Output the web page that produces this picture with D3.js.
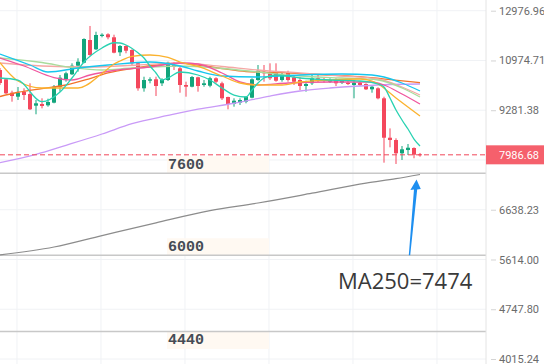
<!DOCTYPE html>
<html>
<head>
<meta charset="utf-8">
<script src="https://cdn.jsdelivr.net/npm/d3@7"></script>
<style>
  body { margin: 0; background: #fff; }
  svg { display: block; }
</style>
</head>
<body>
<div id="chart-area"></div>
<script>
// candle values, one entry per day
let opens = [10627, 10300, 9845, 9714, 9879, 9802, 9424, 9478, 9436, 9520,
  10046, 10310, 10475, 10783, 10892, 11757, 11395, 11917, 11985, 11865,
  11281, 11522, 11368, 10870, 9992, 10251, 10300, 10162, 10275, 10808,
  10689, 10104, 10046, 10370, 10104, 10080, 10335, 10162, 9704, 9478,
  9520, 9552, 9681, 10275, 10567, 10510, 10567, 10275, 10531, 10370,
  10275, 10070, 10162, 10335, 10300, 10217, 10275, 10183, 10183, 10104,
  10183, 10138, 9958, 9992, 9661, 8460, 8395, 8028, 8117, 8172, 8001]
let closes = [10172, 9825, 9736, 9845, 9769, 9310, 9500, 9414, 9542, 10046,
  10355, 10510, 10783, 10929, 11797, 11178, 11957, 11969, 11865, 11265,
  11522, 11341, 10870, 9992, 10275, 10300, 10070, 10275, 10892, 10736,
  10104, 10046, 10380, 10070, 10162, 10335, 10217, 9661, 9478, 9584,
  9606, 9714, 10300, 10602, 10510, 10335, 10251, 10450, 10275, 10217,
  10070, 10138, 10335, 10251, 10251, 10275, 10162, 10251, 10138, 10183,
  10104, 9958, 10046, 9661, 8460, 8395, 8028, 8136, 8180, 7990, 7986.68]
let highs = [10699, 10335, 9912, 10036, 9992, 10162, 9606, 9661, 9648, 10104,
  10450, 10567, 10870, 11055, 11825, 12326, 12090, 12026, 12026, 11969,
  11561, 11549, 11395, 10918, 10390, 10370, 10390, 10335, 10929, 10918,
  10747, 10217, 10415, 10390, 10275, 10390, 10370, 10217, 9714, 9661,
  9661, 9714, 10335, 10808, 10808, 10870, 10870, 10531, 10602, 10450,
  10370, 10251, 10450, 10450, 10345, 10335, 10335, 10300, 10275, 10275,
  10217, 10162, 10070, 10026, 9714, 8730, 8443, 8227, 8283, 8191, 8037]
let lows = [10104, 9802, 9552, 9606, 9606, 9288, 9155, 9340, 9392, 9500,
  9879, 10217, 10450, 10567, 10870, 11152, 11368, 11865, 11785, 11243,
  11141, 11243, 10808, 9912, 9879, 10162, 9736, 10070, 10241, 10627,
  9845, 9714, 10026, 9879, 10046, 10026, 10162, 9606, 9310, 9392,
  9446, 9500, 9661, 10251, 10217, 10275, 10217, 10217, 10217, 10104,
  9935, 9879, 10104, 10207, 10183, 10172, 10070, 10138, 10104, 9661,
  10070, 9935, 9845, 9628, 7778, 8191, 7744, 7849, 7982, 7894, 7937]

// moving averages as [day index, price]
let maTeal = [[0, 10345], [3, 10275], [7, 9552], [10, 9868], [12, 10345], [14, 10918], [17, 11445],
  [19, 11650], [20, 11640], [21, 11561], [23, 11260], [24, 11066], [25, 10772], [26, 10521], [27, 10275],
  [28, 10345], [30, 10556], [33, 10450], [35, 10275], [37, 10002], [39, 9769], [41, 9704], [42, 9935],
  [43, 10172], [44, 10345], [46, 10450], [50, 10345], [55, 10275], [60, 10241], [63, 10138], [64, 10036],
  [65, 9671], [66, 9288], [67, 8980], [68, 8712], [69, 8423], [70, 8227]]
let maGold = [[0, 10893], [3, 10241], [7, 10002], [13, 10002], [17, 10503], [19, 10845], [20, 10955],
  [22, 11130], [25, 11178], [28, 11085], [30, 10918], [33, 10754], [37, 10415], [40, 10172], [43, 10104],
  [47, 10104], [50, 10207], [55, 10275], [60, 10310], [62, 10241], [63, 10138], [66, 9671], [70, 9102]]
let maCyan = [[0, 11216], [5, 10808], [8, 10556], [13, 10699], [18, 10808], [25, 10918], [30, 10772],
  [33, 10592], [37, 10415], [43, 10380], [50, 10450], [57, 10485], [62, 10450], [64, 10380], [67, 10172], [70, 9902]]
let maPink = [[0, 11066], [4, 10772], [9, 10362], [12, 10275], [15, 10450], [19, 10610], [25, 10736],
  [30, 10881], [33, 10845], [37, 10521], [40, 10207], [43, 10104], [48, 10172], [55, 10207], [62, 10207],
  [64, 10104], [67, 9802], [70, 9478]]
let maLightGreen = [[0, 11066], [7, 10900], [12, 10718], [17, 10627], [22, 10699], [30, 10772], [37, 10681],
  [43, 10556], [50, 10415], [57, 10345], [63, 10275], [67, 10002], [70, 9704]]
let maSalmon = [[0, 10881], [7, 10772], [15, 10736], [23, 10808], [30, 10881], [37, 10754], [43, 10627],
  [50, 10521], [57, 10415], [63, 10310], [67, 10036], [70, 9769]]
let maOrange = [[0, 9720], [3, 9860], [7, 9985], [11, 10104], [15, 10327], [18, 10521], [22, 10681],
  [27, 10826], [30, 10870], [33, 10808], [37, 10681], [41, 10574], [47, 10531], [53, 10468], [60, 10390],
  [65, 10292], [70, 10183]]
let maPurple = [[0, 7778], [6, 7998], [11, 8247], [17, 8567], [22, 8869], [28, 9118], [33, 9314],
  [39, 9502], [45, 9736], [50, 9902], [55, 10002], [60, 10070], [65, 10121], [70, 10138]]
let ma250 = [[0, 5703], [9, 5855], [17, 6085], [26, 6352], [35, 6617], [43, 6790], [52, 7018],
  [61, 7262], [66, 7370], [70, 7474]]

let priceTicks = [12976.96, 10974.71, 9281.38, 7849.33, 6638.23, 5614.00, 4747.80, 4015.24]
let levelPrices = [7505, 5694, 4404]
let levelLabels = ["7600", "6000", "4440"]
let gridDays = [2.83, 16.83, 30.83, 44.83, 58.83, 72.83]
let lastPrice = 7986.68
let maNote = "MA250=7474"

let width = 544
let height = 364
let plotRight = 486

let svg = d3.select("#chart-area").append("svg")
  .attr("width", width)
  .attr("height", height)

svg.append("rect").attr("width", width).attr("height", height).attr("fill", "#fff")

let x = d3.scaleLinear().domain([0, 70]).range([0, 420])
let y = d3.scaleLog().domain([4015.24, 12976.96]).range([359, 10.7])

// grid
svg.append("g").selectAll("line").data(gridDays).enter().append("line")
  .attr("x1", d => x(d)).attr("x2", d => x(d))
  .attr("y1", 0).attr("y2", height)
  .attr("stroke", "#f0f2f5")
svg.append("g").selectAll("line").data(priceTicks).enter().append("line")
  .attr("x1", 0).attr("x2", plotRight)
  .attr("y1", d => y(d)).attr("y2", d => y(d))
  .attr("stroke", "#f0f2f5")

// level lines with their labels
let levels = svg.append("g")
levelPrices.forEach((p, i) => {
  let ly = y(p)
  let below = i === levelPrices.length - 1
  levels.append("rect")
    .attr("x", 167).attr("width", 102)
    .attr("y", below ? ly + 0.5 : ly - 17).attr("height", 17)
    .attr("fill", "#fff9f2")
  levels.append("line")
    .attr("x1", 0).attr("x2", plotRight)
    .attr("y1", ly).attr("y2", ly)
    .attr("stroke", "#c8c8c8").attr("stroke-width", 1.5)
  levels.append("text")
    .attr("x", 168)
    .attr("y", below ? ly + 12.5 : ly - 4)
    .attr("font-family", "Liberation Mono, monospace")
    .attr("font-weight", "bold")
    .attr("font-size", "15px")
    .attr("fill", "#464c55")
    .text(levelLabels[i])
})

// candles
let green = "#12a57c"
let red = "#f4475c"
let candles = svg.append("g").selectAll("g").data(opens).enter().append("g")
candles.append("line")
  .attr("x1", (d, i) => x(i)).attr("x2", (d, i) => x(i))
  .attr("y1", (d, i) => y(highs[i])).attr("y2", (d, i) => y(lows[i]))
  .attr("stroke", (d, i) => closes[i] >= d ? green : red)
candles.append("rect")
  .attr("x", (d, i) => x(i) - 2)
  .attr("width", 4)
  .attr("y", (d, i) => y(Math.max(d, closes[i])))
  .attr("height", (d, i) => Math.max(1, Math.abs(y(d) - y(closes[i]))))
  .attr("fill", (d, i) => closes[i] >= d ? green : red)

// moving averages
let line = d3.line()
  .x(d => x(d[0]))
  .y(d => y(d[1]))
  .curve(d3.curveMonotoneX)

let maLines = [
  [maPurple, "#c99af7"],
  [maOrange, "#f2742a"],
  [maSalmon, "#f5a7a5"],
  [maLightGreen, "#a9dc9c"],
  [maPink, "#f0579f"],
  [maCyan, "#16c6ee"],
  [maGold, "#fbb22e"],
  [maTeal, "#29d2b2"]
]
maLines.forEach(m => {
  svg.append("path")
    .attr("d", line(m[0]))
    .attr("fill", "none")
    .attr("stroke", m[1])
    .attr("stroke-width", 1.3)
})

svg.append("path")
  .attr("d", line(ma250))
  .attr("fill", "none")
  .attr("stroke", "#8c8c8c")
  .attr("stroke-width", 1.2)

// current price
svg.append("line")
  .attr("x1", 0).attr("x2", plotRight)
  .attr("y1", y(lastPrice)).attr("y2", y(lastPrice))
  .attr("stroke", "#f0475a")
  .attr("stroke-dasharray", "5,3")

// right axis
svg.append("line")
  .attr("x1", plotRight).attr("x2", plotRight)
  .attr("y1", 0).attr("y2", height)
  .attr("stroke", "#e4e4e4")

let yAxisCall = d3.axisRight(y)
  .tickValues(priceTicks)
  .tickFormat(d3.format(".2f"))
  .tickSize(5)
  .tickPadding(3)
let yAxis = svg.append("g")
  .attr("transform", "translate(491, 0)")
  .call(yAxisCall)
yAxis.select(".domain").remove()
yAxis.selectAll("line").attr("stroke", "#d4d4d4")
yAxis.selectAll("text")
  .attr("fill", "#6b6b6b")
  .attr("font-family", "Roboto, sans-serif")
  .attr("font-size", "11px")

let py = y(lastPrice)
svg.append("rect")
  .attr("x", plotRight).attr("width", width - plotRight)
  .attr("y", py - 9.5).attr("height", 19)
  .attr("fill", "#f5606c")
svg.append("text")
  .attr("x", 499).attr("y", py)
  .attr("dy", "0.35em")
  .attr("fill", "#fff")
  .attr("font-family", "Roboto, sans-serif")
  .attr("font-size", "11px")
  .text(d3.format(".2f")(lastPrice))

// arrow pointing at the end of MA250
let last = ma250[ma250.length - 1]
let tipX = x(last[0]) - 3.5
let tipY = y(last[1]) + 5
let baseY = y(levelPrices[1])
let baseX = tipX - 7
let slope = (tipX - baseX) / (tipY - baseY)
let headY = tipY + 10
let headX = tipX + slope * 10
svg.append("path")
  .attr("d", "M" + (baseX - 0.7) + "," + baseY +
    "L" + (headX - 1.6) + "," + headY +
    "L" + (headX - 5.2) + "," + (headY + 0.5) +
    "L" + tipX + "," + tipY +
    "L" + (headX + 5.2) + "," + (headY - 0.5) +
    "L" + (headX + 1.6) + "," + headY +
    "L" + (baseX + 0.7) + "," + baseY + "Z")
  .attr("fill", "#1e8ff0")

svg.append("text")
  .attr("x", 338)
  .attr("y", 289)
  .attr("font-family", "Open Sans, sans-serif")
  .attr("font-size", "22px")
  .attr("fill", "#3a3a3a")
  .text(maNote)
</script>
</body>
</html>
